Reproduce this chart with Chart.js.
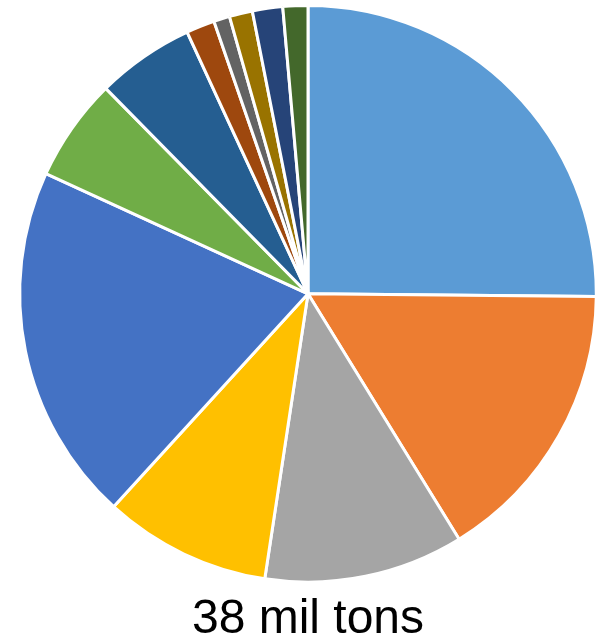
<!DOCTYPE html>
<html>
<head>
<meta charset="utf-8">
<script src="https://cdn.jsdelivr.net/npm/chart.js@4"></script>
<style>
  html, body { margin: 0; padding: 0; background: #fff; }
  #wrap { width: 598px; height: 639px; }
</style>
</head>
<body>
<div id="wrap"><canvas id="pieChart"></canvas></div>
<script>
// shares (percent of total)
const categories = ['S1', 'S2', 'S3', 'S4', 'S5', 'S6', 'S7', 'S8', 'S9', 'S10', 'S11', 'S12'];
const shares = [25.2, 16.1, 11.2, 9.4, 20.1, 5.8, 5.5, 1.6, 0.9, 1.3, 1.7, 1.4];
const sliceColors = ['#5B9BD5', '#ED7D31', '#A5A5A5', '#FFC000', '#4472C4', '#70AD47',
                     '#255E91', '#9E480E', '#636363', '#997300', '#264478', '#43682B'];
const totalLabel = '38 mil tons';

document.addEventListener("DOMContentLoaded", function() {
    const ctx = document.getElementById('pieChart').getContext('2d');

    const pieChart = new Chart(ctx, {
        type: 'pie',
        data: {
            labels: categories,
            datasets: [{
                data: shares,
                backgroundColor: sliceColors,
                borderColor: '#ffffff',
                borderWidth: 3
            }]
        },
        options: {
            responsive: true,
            maintainAspectRatio: false,
            animation: false,
            layout: {
                padding: { left: 18, right: 0, top: 4, bottom: 0 }
            },
            plugins: {
                legend: { display: false },
                tooltip: { enabled: false },
                title: {
                    display: true,
                    position: 'bottom',
                    text: totalLabel,
                    color: '#000000',
                    font: { family: 'Liberation Sans, Arial, sans-serif', size: 48, weight: 'normal', lineHeight: 0.8 },
                    padding: { top: 17, bottom: 0 }
                }
            }
        }
    });
});
</script>
</body>
</html>
